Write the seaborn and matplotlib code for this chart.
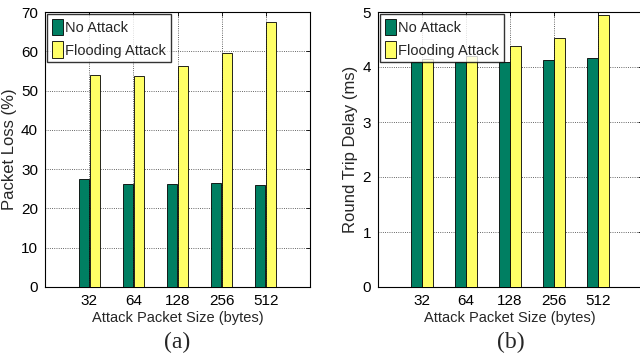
import matplotlib
matplotlib.use("Agg")
import matplotlib.pyplot as plt
import seaborn as sns
import pandas as pd

sizes = ["32", "64", "128", "256", "512"]
series = ["No Attack", "Flooding Attack"]
loss_no_attack = [27.4, 26.1, 26.2, 26.5, 25.9]
loss_flooding = [53.9, 53.6, 56.2, 59.6, 67.4]
delay_no_attack = [4.10, 4.10, 4.10, 4.12, 4.16]
delay_flooding = [4.15, 4.20, 4.38, 4.52, 4.94]

colors = ["#007f62", "#ffff66"]

sns.set_style("white")
plt.rcParams["font.family"] = ["Liberation Sans", "DejaVu Sans"]


def long_df(a, b):
    return pd.DataFrame({
        "size": sizes * 2,
        "series": [series[0]] * len(sizes) + [series[1]] * len(sizes),
        "value": list(a) + list(b),
    })


fig = plt.figure(figsize=(6.4, 3.64), dpi=100)
W, H = 640.0, 364.0
ax1 = fig.add_axes([45 / W, 1 - 287 / H, 265 / W, 275 / H])
ax2 = fig.add_axes([378 / W, 1 - 287 / H, 264 / W, 275 / H])

panels = [
    (ax1, long_df(loss_no_attack, loss_flooding), "Packet Loss (%)", 70, 10, "(a)"),
    (ax2, long_df(delay_no_attack, delay_flooding), "Round Trip Delay (ms)", 5, 1, "(b)"),
]

for ax, df, ylab, ymax, ystep, tag in panels:
    sns.barplot(data=df, x="size", y="value", hue="series", order=sizes,
                hue_order=series, palette=colors, saturation=1, width=0.5, gap=0.08,
                edgecolor="black", linewidth=0.6, ax=ax, zorder=3)
    ax.set_xlim(-1, 5)
    ax.set_ylim(0, ymax)
    ax.set_yticks(range(0, ymax + 1, ystep))
    ax.grid(True, linestyle=":", color="black", linewidth=0.6, alpha=0.8)
    ax.set_axisbelow(True)
    for s in ax.spines.values():
        s.set_color("black")
        s.set_linewidth(0.8)
    ax.tick_params(direction="in", length=3, width=0.6, labelsize=11,
                   top=True, right=True, pad=5, colors="black")
    ax.set_xlabel("Attack Packet Size (bytes)", fontsize=10.5, labelpad=2)
    ax.set_ylabel(ylab, fontsize=12, labelpad=3)
    leg = ax.legend(loc="upper left", fontsize=10.5, frameon=True, fancybox=False,
                    edgecolor="black", borderaxespad=0.15, handlelength=0.8,
                    handleheight=1.4, handletextpad=0.15, labelspacing=0.4,
                    borderpad=0.3, title=None)
    leg.get_frame().set_linewidth(1.0)
    leg.set_zorder(5)
    bbox = ax.get_position()
    fig.text(bbox.x0 + 265 / W / 2, 1 - 342 / H, tag, ha="center", va="center",
             fontsize=17, family=["Liberation Serif"])

fig.savefig("out.png", dpi=100)
